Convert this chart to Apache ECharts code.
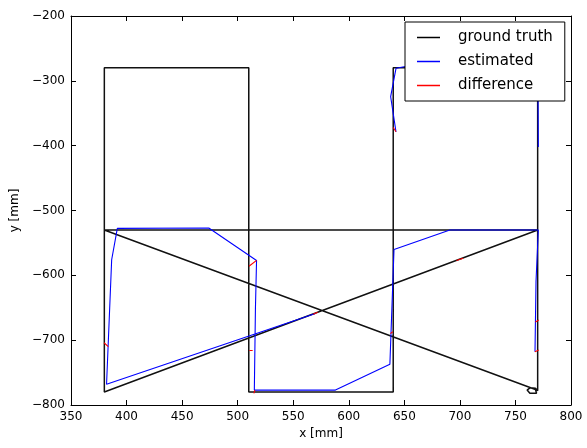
<!DOCTYPE html>
<html>
<head>
<meta charset="utf-8">
<script src="https://cdn.jsdelivr.net/npm/echarts@6/dist/echarts.min.js"></script>
<style>
  html, body { margin: 0; padding: 0; background: #fff; }
  #chart { width: 587px; height: 448px; }
</style>
</head>
<body>
<div id="chart"></div>
<script>
// ground truth path (x, y in mm)
const truthX = [380, 380, 510, 510, 640, 640, 770, 770, 768, 763, 760.5, 763, 769, 770.5, 768, 380, 770, 380, 380]
const truthY = [-530, -280, -280, -780, -780, -280, -280, -778, -774, -773.5, -777, -782, -782, -779, -776, -530, -530, -780, -530]

// estimated trajectory pieces (null = break)
const estX = [570, 382, 386.6, 391.7, 474, 517, 516, 515, 588, 637, 640.7, 691, 770.6, 768.5, 767.6, null,
  642.5, 637.7, 642.5, 651, null,
  770.3, 770.6]
const estY = [-659, -768, -576, -527.6, -527, -577, -650, -777, -777, -737, -560, -530, -530, -610, -718, null,
  -378.6, -324.5, -280.7, -278, null,
  -300, -402]

// difference segments, pairs of points
const diffX = [379.7, 383.6, null, 510.2, 517, null, 510.5, 513.5, null, 514.6, 515.5, null, 568, 572, null,
  639.5, 637.5, null, 697, 703, null, 767.6, 771, null, 768, 771, null, 640, 642.5]
const diffY = [-704, -710, null, -586, -577, null, -716, -716, null, -782, -777, null, -660, -657, null,
  -687, -690, null, -577, -573.5, null, -718, -715, null, -672, -669, null, -372, -378.6]

const xTicks = { min: 350, max: 800, interval: 50 }
const yTicks = { min: -800, max: -200, interval: 100 }

function pairs (xs, ys) {
  return xs.map((x, i) => (x === null ? '-' : [x, ys[i]]))
}

const minus = v => String(v).replace('-', '\u2212')
const font = 'DejaVu Sans'

const chart = echarts.init(document.getElementById('chart'))
const tickIn = { show: true, inside: true, length: 5, lineStyle: { color: '#000' } }
const frame = { show: true, onZero: false, lineStyle: { color: '#000', width: 1 } }

chart.setOption({
  animation: false,
  grid: { left: 71, right: 16, top: 16, bottom: 43 },
  xAxis: [{
    type: 'value', ...xTicks, position: 'bottom',
    axisLine: frame, axisTick: tickIn, splitLine: { show: false },
    axisLabel: { color: '#000', fontFamily: font, fontSize: 12, margin: 6 },
    name: 'x [mm]', nameLocation: 'middle', nameGap: 22,
    nameTextStyle: { color: '#000', fontFamily: font, fontSize: 12 }
  }, {
    type: 'value', ...xTicks, position: 'top',
    axisLine: frame, axisTick: tickIn, splitLine: { show: false }, axisLabel: { show: false }
  }],
  yAxis: [{
    type: 'value', ...yTicks, position: 'left',
    axisLine: frame, axisTick: tickIn, splitLine: { show: false },
    axisLabel: { color: '#000', fontFamily: font, fontSize: 12, margin: 6, formatter: minus },
    name: 'y [mm]', nameLocation: 'middle', nameGap: 48,
    nameTextStyle: { color: '#000', fontFamily: font, fontSize: 12 }
  }, {
    type: 'value', ...yTicks, position: 'right',
    axisLine: frame, axisTick: tickIn, splitLine: { show: false }, axisLabel: { show: false }
  }],
  legend: {
    orient: 'vertical', left: 405, top: 22,
    padding: [8, 12, 8, 12], itemGap: 9,
    itemWidth: 23, itemHeight: 1.5,
    backgroundColor: '#fff', borderColor: '#000', borderWidth: 1, borderRadius: 0,
    textStyle: { color: '#000', fontFamily: font, fontSize: 15, padding: [0, 0, 0, 13] },
    data: [
      { name: 'ground truth', icon: 'rect' },
      { name: 'estimated', icon: 'rect' },
      { name: 'difference', icon: 'rect' }
    ]
  },
  series: [{
    name: 'ground truth', type: 'line', showSymbol: false, symbol: 'none',
    data: pairs(truthX, truthY),
    lineStyle: { color: '#111', width: 1.5 }, itemStyle: { color: '#000' }
  }, {
    name: 'estimated', type: 'line', showSymbol: false, symbol: 'none',
    data: pairs(estX, estY),
    lineStyle: { color: '#0000ff', width: 1.1 }, itemStyle: { color: '#0000ff' }
  }, {
    name: 'difference', type: 'line', showSymbol: false, symbol: 'none',
    data: pairs(diffX, diffY),
    lineStyle: { color: '#ff0000', width: 1.1 }, itemStyle: { color: '#ff0000' }
  }]
})
</script>
</body>
</html>
